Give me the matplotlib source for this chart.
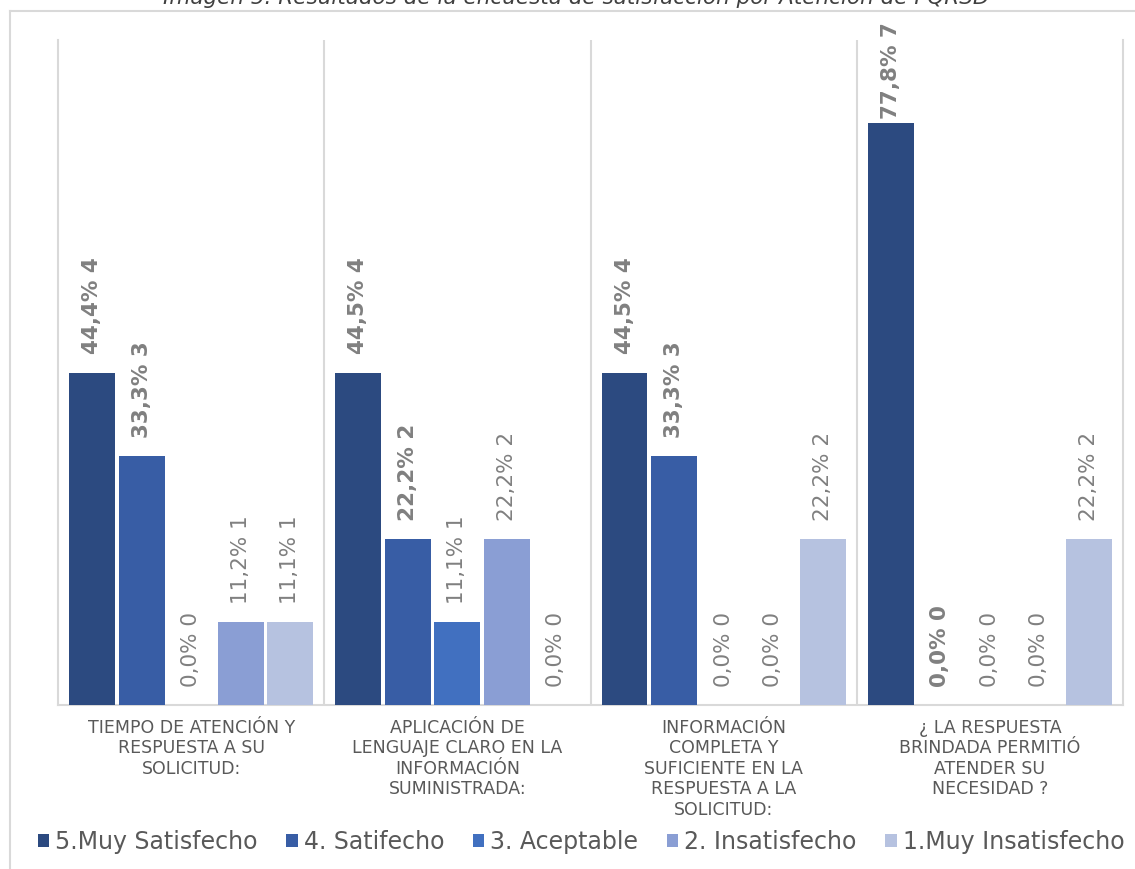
import matplotlib
matplotlib.use("Agg")
import matplotlib.pyplot as plt
from matplotlib.lines import Line2D
import numpy as np

categories = [
    "TIEMPO DE ATENCIÓN Y\nRESPUESTA A SU\nSOLICITUD:",
    "APLICACIÓN DE\nLENGUAJE CLARO EN LA\nINFORMACIÓN\nSUMINISTRADA:",
    "INFORMACIÓN\nCOMPLETA Y\nSUFICIENTE EN LA\nRESPUESTA A LA\nSOLICITUD:",
    "¿ LA RESPUESTA\nBRINDADA PERMITIÓ\nATENDER SU\nNECESIDAD ?",
]
series_names = ["5.Muy Satisfecho", "4. Satifecho", "3. Aceptable", "2. Insatisfecho", "1.Muy Insatisfecho"]
muy_satisfecho = [4, 4, 4, 7]
satisfecho = [3, 2, 3, 0]
aceptable = [0, 1, 0, 0]
insatisfecho = [1, 2, 0, 0]
muy_insatisfecho = [1, 0, 2, 2]
pct_muy_satisfecho = ["44,4%", "44,5%", "44,5%", "77,8%"]
pct_satisfecho = ["33,3%", "22,2%", "33,3%", "0,0%"]
pct_aceptable = ["0,0%", "11,1%", "0,0%", "0,0%"]
pct_insatisfecho = ["11,2%", "22,2%", "0,0%", "0,0%"]
pct_muy_insatisfecho = ["11,1%", "0,0%", "22,2%", "22,2%"]
bold_muy_satisfecho = [True, True, True, True]
bold_satisfecho = [True, True, True, True]
bold_aceptable = [False, False, False, False]
bold_insatisfecho = [False, False, False, False]
bold_muy_insatisfecho = [False, False, False, False]
title = "Imagen 5. Resultados de la encuesta de satisfacción por Atención de PQRSD"

values = [muy_satisfecho, satisfecho, aceptable, insatisfecho, muy_insatisfecho]
pcts = [pct_muy_satisfecho, pct_satisfecho, pct_aceptable, pct_insatisfecho, pct_muy_insatisfecho]
bolds = [bold_muy_satisfecho, bold_satisfecho, bold_aceptable, bold_insatisfecho, bold_muy_insatisfecho]
colors = ["#2C4A80", "#385DA5", "#4170C0", "#8A9ED4", "#B6C2E0"]

plt.rcParams["font.family"] = ["DejaVu Sans"]

W, H = 1135, 869
fig = plt.figure(figsize=(W / 100, H / 100), dpi=100)
fig.patch.set_facecolor("white")

ax_bottom_px, ax_top_px = 705, 40
ax = fig.add_axes([58 / W, 1 - ax_bottom_px / H, (1123 - 58) / W, (ax_bottom_px - ax_top_px) / H])
x = np.arange(len(categories))
step = 0.186
bw = 0.172
ymax = 8
px_per_unit = (ax_bottom_px - ax_top_px) / ymax
label_len_px = 97
min_top_px = 22
for i, (vals, pl, bl, col) in enumerate(zip(values, pcts, bolds, colors)):
    xs = x + (i - 2) * step
    bars = ax.bar(xs, vals, width=bw, color=col, label=series_names[i], zorder=3)
    for b, v, p, bo in zip(bars, vals, pl, bl):
        bar_top_px = ax_bottom_px - b.get_height() * px_per_unit
        off_px = min(18, bar_top_px - label_len_px - min_top_px)
        ax.annotate(f"{p} {v}", xy=(b.get_x() + b.get_width() / 2, b.get_height()),
                    xytext=(0, off_px * 0.72), textcoords="offset points", rotation=90,
                    ha="center", va="bottom", fontsize=15.5, color="#808080",
                    fontweight="bold" if bo else "normal", annotation_clip=False)

ax.set_xlim(-0.5, len(categories) - 0.5)
ax.set_ylim(0, ymax)
ax.set_yticks([])
for sep in np.arange(0.5, len(categories) - 0.5, 1):
    ax.axvline(sep, color="#D9D9D9", lw=1.5, zorder=1)
for s in ["left", "right", "bottom"]:
    ax.spines[s].set_color("#D9D9D9")
    ax.spines[s].set_linewidth(1.5)
ax.spines["top"].set_visible(False)
ax.set_xticks(x)
ax.set_xticklabels(categories, fontsize=12.5, color="#595959", linespacing=1.18)
ax.tick_params(axis="x", length=0, pad=10)

leg = fig.legend(loc="center", bbox_to_anchor=(581 / W, 1 - 842 / H), ncol=5, frameon=False,
                 fontsize=17, handlelength=0.5, handleheight=0.5, handletextpad=0.25,
                 columnspacing=1.2, borderaxespad=0)
for t in leg.get_texts():
    t.set_color("#595959")

fig.text(0.508, 1 + 3 / H, title, ha="center", va="center", fontsize=15.5, style="italic", color="#404040")

fig.add_artist(Line2D([9.5 / W, 9.5 / W], [0, 1 - 11 / H], transform=fig.transFigure, color="#D9D9D9", lw=1.5))
fig.add_artist(Line2D([9.5 / W, 1], [1 - 11 / H, 1 - 11 / H], transform=fig.transFigure, color="#D9D9D9", lw=1.5))

fig.savefig("out.png", dpi=100)
